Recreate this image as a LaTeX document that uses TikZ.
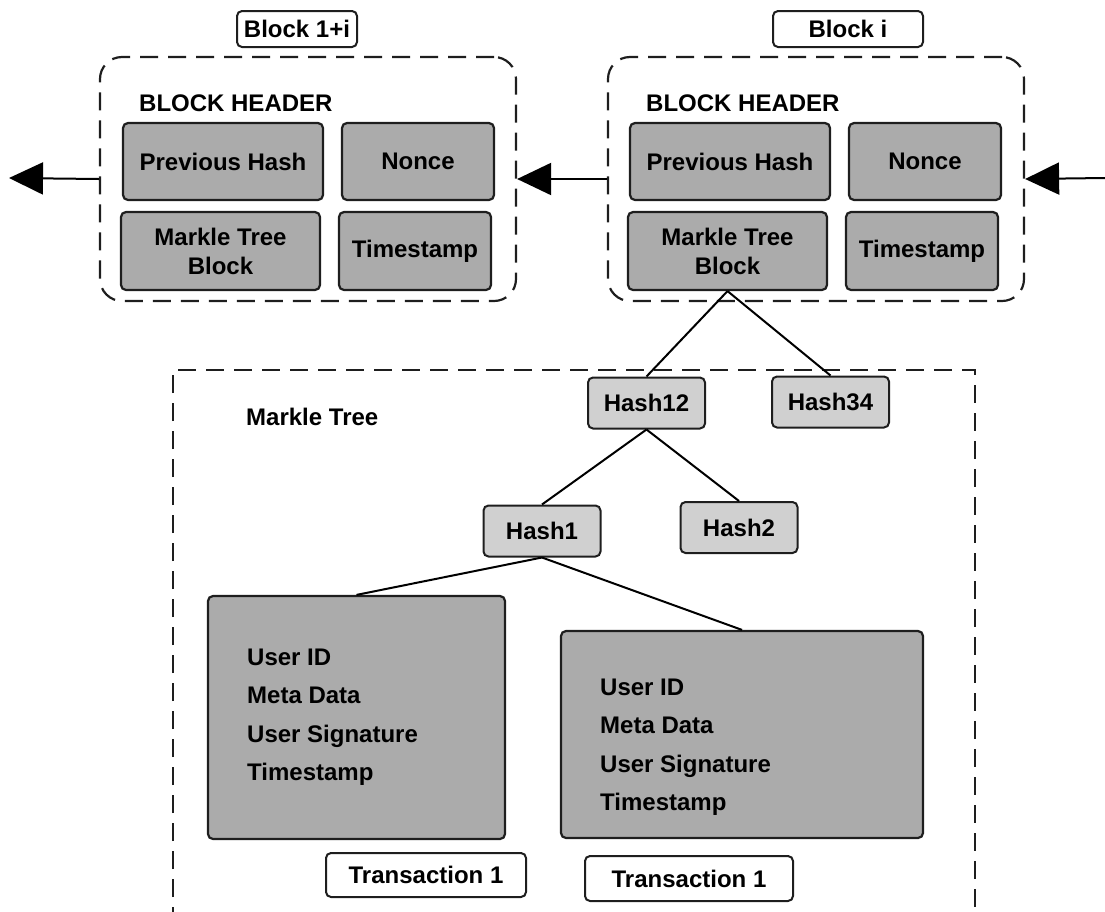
\documentclass[tikz,border=0pt]{standalone}
\usepackage{fontspec}
\setmainfont{Liberation Sans}
\usetikzlibrary{arrows.meta}
\definecolor{boxgray}{HTML}{ABABAB}
\definecolor{hashgray}{HTML}{D0D0D0}
\definecolor{edge}{HTML}{1E1E1E}
\begin{document}
\begin{tikzpicture}[x=1pt,y=-1pt,
  font=\fontsize{24}{29}\selectfont\bfseries,
  every node/.style={inner sep=0pt},
  field/.style={draw=edge, line width=2.2pt, fill=boxgray, rounded corners=5pt, align=center},
  hashbox/.style={draw=edge, line width=2pt, fill=hashgray, rounded corners=5pt,
                  minimum width=117pt, minimum height=51pt},
  tag/.style={draw=edge, line width=2pt, fill=white, rounded corners=5pt},
  frame/.style={draw=edge, line width=2.2pt, dash pattern=on 18pt off 10pt, rounded corners=22pt},
  treeframe/.style={draw=edge, line width=2.2pt, dash pattern=on 18pt off 10pt},
  link/.style={draw=black, line width=2pt},
  chain/.style={draw=black, line width=2pt, -{Triangle[length=34pt,width=32pt]}},
]
\useasboundingbox (0,0) rectangle (1105,911);

% block containers
\node[frame, minimum width=416pt, minimum height=244pt] (blkA) at (308,179) {};
\node[frame, minimum width=416pt, minimum height=244pt] (blkB) at (816,179) {};

% block tags
\node[tag, minimum width=120pt, minimum height=36pt] (tagA) at (297,29) {Block 1+i};
\node[tag, minimum width=150pt, minimum height=36pt] (tagB) at (848,29) {Block i};

% header captions
\node[anchor=base west] (hdrA) at (139,111) {BLOCK HEADER};
\node[anchor=base west] (hdrB) at (646,111) {BLOCK HEADER};

% header fields, block 1+i
\node[field, minimum width=200pt, minimum height=77pt] (prevA)  at (223,161.5) {Previous Hash};
\node[field, minimum width=152pt, minimum height=77pt] (nonceA) at (418,161.5) {Nonce};
\node[field, minimum width=199pt, minimum height=78pt] (mtbA)   at (220.5,251) {Markle Tree\\Block};
\node[field, minimum width=152pt, minimum height=78pt] (timeA)  at (415,251)   {Timestamp};

% header fields, block i
\node[field, minimum width=200pt, minimum height=77pt] (prevB)  at (730,161.5) {Previous Hash};
\node[field, minimum width=152pt, minimum height=77pt] (nonceB) at (925,161.5) {Nonce};
\node[field, minimum width=199pt, minimum height=78pt] (mtbB)   at (727.5,251) {Markle Tree\\Block};
\node[field, minimum width=152pt, minimum height=78pt] (timeB)  at (922,251)   {Timestamp};

% chain arrows
\coordinate (westEnd) at (9,178);
\coordinate (eastStart) at (1105,178);
\draw[chain] (blkA.west) -- (westEnd);
\draw[chain] (blkB.west) -- (blkA.east);
\draw[chain] (eastStart) -- (blkB.east);

% merkle tree region (open at the bottom)
\draw[treeframe] (173,925) -- (173,370) -- (975,370) -- (975,925);
\node[anchor=base west] (mtlabel) at (246,425) {Markle Tree};

% hash nodes
\node[hashbox] (h12) at (646.5,403) {Hash12};
\node[hashbox] (h34) at (830.5,402) {Hash34};
\node[hashbox] (h1)  at (542,531)   {Hash1};
\node[hashbox] (h2)  at (739,527.5) {Hash2};

% transactions
\node[field, minimum width=297pt, minimum height=243pt] (txA) at (356.5,717.5) {};
\node[field, minimum width=362pt, minimum height=207pt] (txB) at (742,734.5) {};
\foreach \t [count=\i] in {User ID, Meta Data, User Signature, Timestamp} {
  \node[anchor=base west] (txAl\i) at (247,{665+38.5*(\i-1)}) {\t};
  \node[anchor=base west] (txBl\i) at (600,{695+38.5*(\i-1)}) {\t};
}
\node[tag, minimum width=200pt, minimum height=44pt] (lblA) at (426,875)   {Transaction 1};
\node[tag, minimum width=208pt, minimum height=45pt] (lblB) at (689,878.5) {Transaction 1};

% tree connectors
\draw[link] (mtbB.south) -- (h12.north);
\draw[link] (mtbB.south) -- (h34.north);
\draw[link] (h12.south) -- (h1.north);
\draw[link] (h12.south) -- (h2.north);
\draw[link] (h1.south) -- (txA.north);
\draw[link] (h1.south) -- (txB.north);
\end{tikzpicture}
\end{document}
